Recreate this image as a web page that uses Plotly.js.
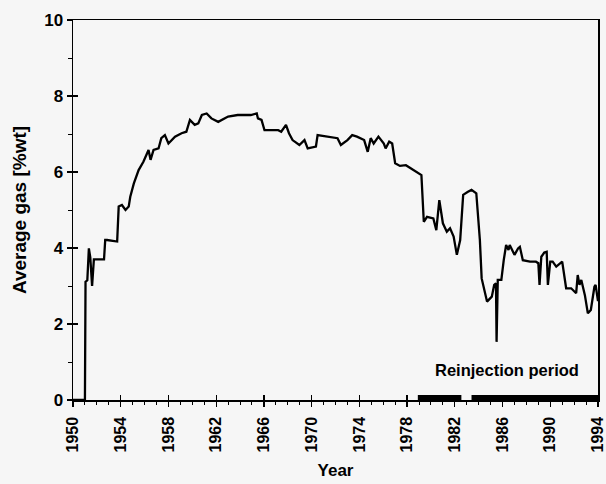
<!DOCTYPE html>
<html>
<head>
<meta charset="utf-8">
<script src="https://cdn.plot.ly/plotly-3.0.1.min.js"></script>
<style>html,body{margin:0;padding:0;background:#f6f6f6;}#chart{width:606px;height:484px;}</style>
</head>
<body>
<div id="chart"></div>
<script>
// Average gas content [%wt] by year
const years = [1950, 1951.0, 1951.05, 1951.2, 1951.33, 1951.45, 1951.6, 1951.75, 1952.6, 1952.7, 1952.86, 1953.7, 1953.83,
  1954.1, 1954.4, 1954.67, 1954.8, 1955.1, 1955.5, 1955.9, 1956.33, 1956.5, 1956.75, 1957.17, 1957.4, 1957.7, 1958.0,
  1958.3, 1958.55, 1959.1, 1959.5, 1959.8, 1960.2, 1960.5, 1960.8, 1961.2, 1961.6, 1962.17, 1963.0, 1963.8, 1964.9,
  1965.4, 1965.5, 1965.8, 1966.05, 1966.6, 1967.2, 1967.45, 1967.85, 1968.1, 1968.4, 1968.97, 1969.4, 1969.67, 1970.36,
  1970.5, 1971.6, 1972.17, 1972.45, 1973.0, 1973.4, 1973.8, 1974.4, 1974.7, 1974.95, 1975.2, 1975.6, 1976.05, 1976.2,
  1976.5, 1976.75, 1977.0, 1977.4, 1977.9, 1978.3, 1978.8, 1979.2, 1979.4, 1979.67, 1980.2, 1980.45, 1980.7, 1981.0,
  1981.33, 1981.6, 1981.9, 1982.17, 1982.45, 1982.7, 1983.1, 1983.4, 1983.8, 1984.1, 1984.25, 1984.5, 1984.7, 1985.1,
  1985.3, 1985.45, 1985.5, 1985.6, 1985.9, 1986.1, 1986.3, 1986.5, 1986.6, 1987.0, 1987.3, 1987.45, 1987.7, 1988.3,
  1988.8, 1989.0, 1989.1, 1989.25, 1989.5, 1989.7, 1989.8, 1990.0, 1990.2, 1990.5, 1991.0, 1991.33, 1991.75, 1992.17,
  1992.3, 1992.45, 1992.6, 1992.9, 1993.15, 1993.4, 1993.7, 1993.8, 1993.97, 1994];
const gas = [0, 0, 3.11, 3.15, 3.99, 3.75, 3.0, 3.70, 3.70, 4.21, 4.21, 4.17, 5.09,
  5.13, 5.0, 5.09, 5.35, 5.70, 6.05, 6.27, 6.58, 6.32, 6.58, 6.62, 6.89, 6.97, 6.75,
  6.84, 6.93, 7.02, 7.06, 7.37, 7.24, 7.28, 7.5, 7.54, 7.41, 7.32, 7.46, 7.5, 7.5,
  7.54, 7.41, 7.37, 7.1, 7.1, 7.1, 7.06, 7.24, 7.02, 6.84, 6.71, 6.84, 6.62, 6.67,
  6.97, 6.93, 6.89, 6.71, 6.84, 6.97, 6.93, 6.84, 6.53, 6.89, 6.75, 6.93, 6.75, 6.62,
  6.80, 6.75, 6.23, 6.16, 6.18, 6.1, 6.0, 5.92, 4.69, 4.82, 4.78, 4.47, 5.26, 4.65,
  4.43, 4.52, 4.30, 3.82, 4.21, 5.40, 5.48, 5.53, 5.44, 4.21, 3.20, 2.89, 2.59, 2.72,
  3.03, 3.07, 1.53, 3.16, 3.16, 3.68, 4.08, 3.95, 4.08, 3.82, 3.99, 4.03, 3.68, 3.64,
  3.64, 3.60, 3.03, 3.77, 3.88, 3.90, 3.03, 3.64, 3.64, 3.51, 3.64, 2.94, 2.94, 2.81,
  3.29, 3.03, 3.16, 2.76, 2.28, 2.37, 2.98, 3.03, 2.72, 2.6];

// Reinjection periods (thick bar on the time axis)
const reinjYears = [1978.9, 1982.55, null, 1983.4, 1994];
const reinjLevel = [0, 0, null, 0, 0];

const xTickVals = [1950, 1954, 1958, 1962, 1966, 1970, 1974, 1978, 1982, 1986, 1990, 1994];
const yTickVals = [0, 2, 4, 6, 8, 10];
const annotationText = 'Reinjection period';

const fontFam = 'Liberation Sans, Arial, sans-serif';
const traces = [
  {x: years, y: gas, type: 'scatter', mode: 'lines', line: {color: '#000', width: 2.3}, hoverinfo: 'skip'},
  {x: reinjYears, y: reinjLevel, type: 'scatter', mode: 'lines', line: {color: '#000', width: 10}, connectgaps: false, hoverinfo: 'skip'},
  {x: years, y: gas, xaxis: 'x2', yaxis: 'y2', type: 'scatter', mode: 'lines', opacity: 0, hoverinfo: 'skip'}
];
const layout = {
  width: 606, height: 484,
  paper_bgcolor: '#f6f6f6', plot_bgcolor: '#f6f6f6',
  margin: {l: 73, r: 8, t: 20, b: 84},
  showlegend: false,
  font: {family: fontFam, color: '#000'},
  xaxis: {
    range: [1950, 1994], tickvals: xTickVals, ticktext: xTickVals.map(String),
    tickangle: -90, ticks: 'outside', ticklen: 5, tickwidth: 1.2, tickcolor: '#000',
    ticklabeloverflow: 'allow', ticklabelstandoff: 4,
    minor: {dtick: 1, tick0: 1950, ticks: 'outside', ticklen: 3, tickcolor: '#000', tickwidth: 1},
    showline: true, linecolor: '#000', linewidth: 1.5, mirror: true, showgrid: false, zeroline: false,
    tickfont: {size: 16, family: fontFam, weight: 'bold'},
    title: {text: 'Year', font: {size: 17, family: fontFam, weight: 'bold'}, standoff: 12}
  },
  yaxis: {
    range: [0, 10], tickvals: yTickVals, ticks: 'outside', ticklen: 5, tickwidth: 1.2, tickcolor: '#000',
    minor: {dtick: 1, tick0: 0, ticks: 'outside', ticklen: 4, tickcolor: '#000', tickwidth: 1},
    showline: true, linecolor: '#000', linewidth: 1.5, mirror: true, showgrid: false, zeroline: false,
    tickfont: {size: 17, family: fontFam, weight: 'bold'},
    title: {text: 'Average gas [%wt]', font: {size: 19, family: fontFam, weight: 'bold'}, standoff: 12}
  },
  xaxis2: {overlaying: 'x', anchor: 'y2', range: [1950, 1994], tickvals: xTickVals, ticks: 'inside', ticklen: 5,
    tickwidth: 1.2, tickcolor: '#000', showticklabels: false, showgrid: false, zeroline: false, showline: false, side: 'bottom'},
  yaxis2: {overlaying: 'y', anchor: 'x2', range: [0, 10], tickvals: yTickVals, ticks: 'inside', ticklen: 5,
    tickwidth: 1.2, tickcolor: '#000', showticklabels: false, showgrid: false, zeroline: false, showline: false, side: 'left'},
  annotations: [{x: 1986.4, y: 0.8, xref: 'x', yref: 'y', text: annotationText, showarrow: false,
    font: {size: 16.5, family: fontFam, weight: 'bold', color: '#000'}}]
};
Plotly.newPlot('chart', traces, layout, {staticPlot: true, displayModeBar: false});
</script>
</body>
</html>
